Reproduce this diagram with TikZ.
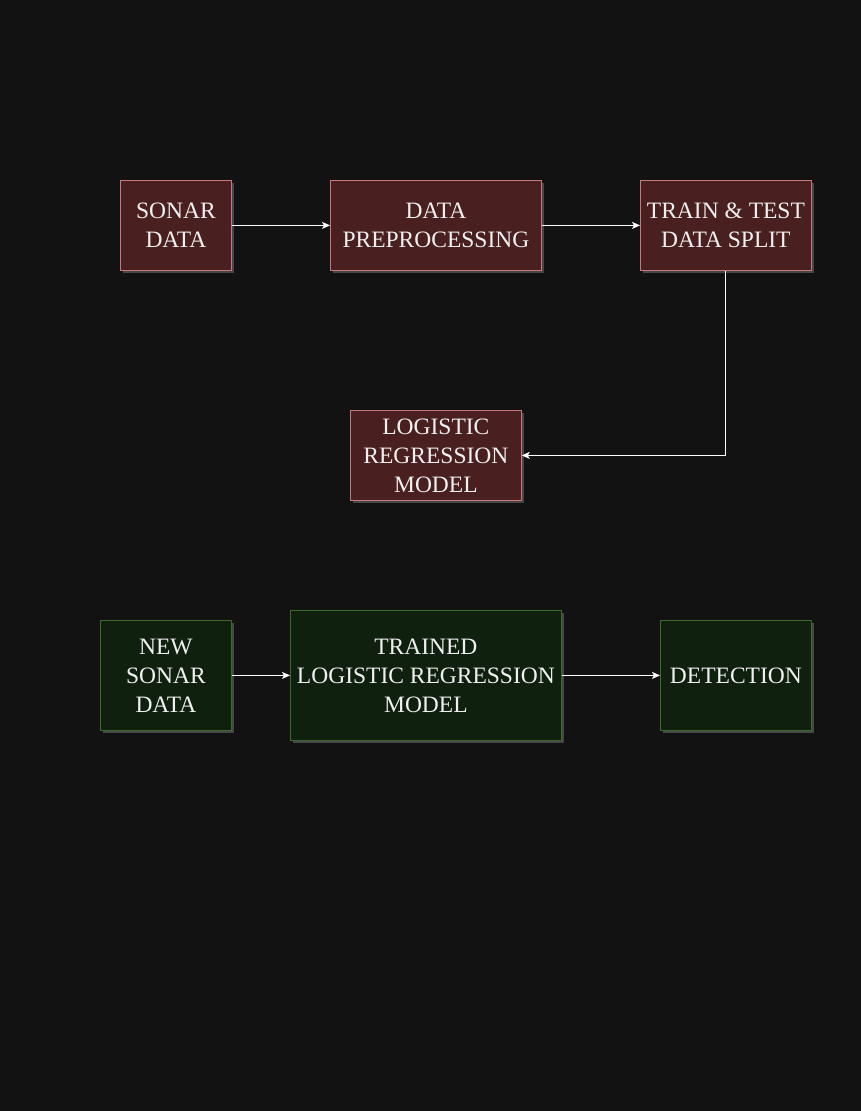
\documentclass[tikz,border=0pt]{standalone}
\usepackage{fontspec}
\setmainfont{Liberation Serif}
\usetikzlibrary{arrows.meta}
\definecolor{bg}{HTML}{121212}
\definecolor{redfill}{HTML}{4A1F1F}
\definecolor{redline}{HTML}{C47A7A}
\definecolor{greenfill}{HTML}{0F200F}
\definecolor{greenline}{HTML}{3F6A2E}
\definecolor{txt}{HTML}{F0F0F0}
\definecolor{shadowc}{HTML}{6A6A6A}
\tikzset{
  box/.style={draw, line width=0.8pt, minimum width=#1, inner sep=0pt, align=center,
    text=txt, font=\fontsize{23.5}{29}\selectfont, anchor=north west},
  redbox/.style={box=#1, fill=redfill, draw=redline},
  greenbox/.style={box=#1, fill=greenfill, draw=greenline},
  conn/.style={draw=white, line width=0.9pt, -{Stealth[length=8pt,width=7pt,inset=2pt]}},
}
\newcommand{\shadowbox}[4]{\fill[shadowc, opacity=0.6] (#1+3,#2+3) rectangle (#3+3,#4+3);}
\begin{document}
\begin{tikzpicture}[x=1pt,y=-1pt]
\fill[bg] (0,0) rectangle (861,1111);
\useasboundingbox (0,0) rectangle (861,1111);
% shadows
\shadowbox{120}{180}{231}{270}
\shadowbox{330}{180}{541}{270}
\shadowbox{640}{180}{811}{270}
\shadowbox{350}{410}{521}{500}
\shadowbox{100}{620}{231}{730}
\shadowbox{290}{610}{561}{740}
\shadowbox{660}{620}{811}{730}
% nodes
\node[redbox=111pt, minimum height=90pt] (sonar) at (120,180) {SONAR\\DATA};
\node[redbox=211pt, minimum height=90pt] (prep) at (330,180) {DATA\\PREPROCESSING};
\node[redbox=171pt, minimum height=90pt] (split) at (640,180) {TRAIN \& TEST\\DATA SPLIT};
\node[redbox=171pt, minimum height=90pt] (lr) at (350,410) {LOGISTIC\\REGRESSION\\MODEL};
\node[greenbox=131pt, minimum height=110pt] (new) at (100,620) {NEW\\SONAR\\DATA};
\node[greenbox=271pt, minimum height=130pt] (trained) at (290,610) {TRAINED\\LOGISTIC REGRESSION\\MODEL};
\node[greenbox=151pt, minimum height=110pt] (det) at (660,620) {DETECTION};
% connectors
\draw[conn] (sonar.east) -- (prep.west);
\draw[conn] (prep.east) -- (split.west);
\draw[conn] (split.south) |- (lr.east);
\draw[conn] (new.east) -- (trained.west);
\draw[conn] (trained.east) -- (det.west);
\end{tikzpicture}
\end{document}
